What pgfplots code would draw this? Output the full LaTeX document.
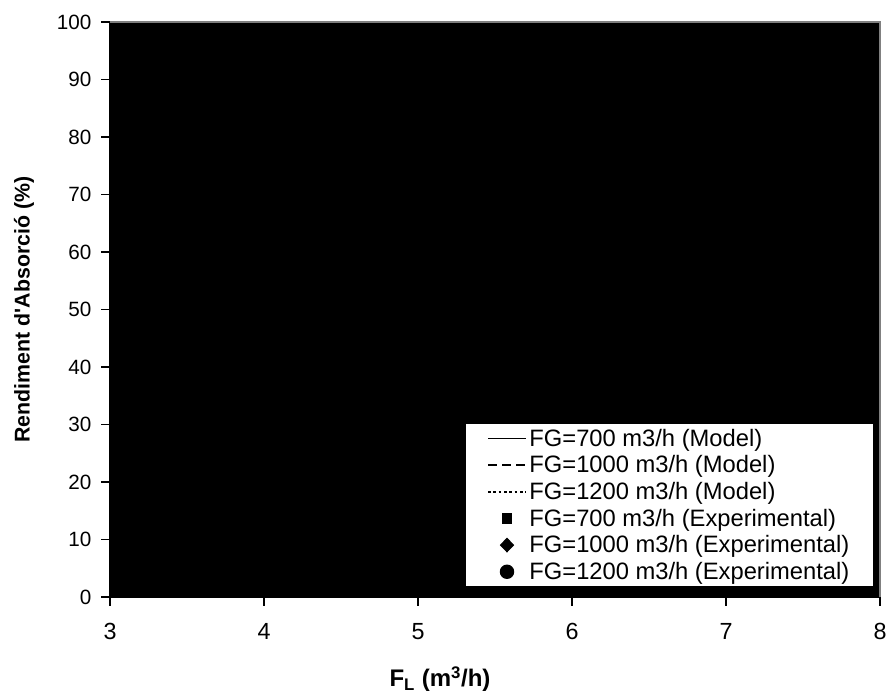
\documentclass[border=0pt]{standalone}
\usepackage{pgfplots}
\pgfplotsset{compat=1.18}
\usepackage{fontspec}
\setmainfont{Liberation Sans}

% Model curves and experimental points (absorption yield vs liquid flow)
\pgfplotstableread{
x    y
3.0  62
4.0  70
5.0  76
6.0  80
7.0  83
8.0  85
}\modelA
\pgfplotstableread{
x    y
3.0  55
4.0  63
5.0  69
6.0  74
7.0  77
8.0  80
}\modelB
\pgfplotstableread{
x    y
3.0  50
4.0  58
5.0  65
6.0  70
7.0  73
8.0  76
}\modelC
\pgfplotstableread{
x    y
3.5  65
5.0  75
6.5  81
}\expA
\pgfplotstableread{
x    y
3.5  58
5.0  68
6.5  75
}\expB
\pgfplotstableread{
x    y
3.5  54
5.0  64
6.5  72
}\expC

\pgfplotsset{
  lineentry/.style={legend image code/.code={%
    \draw[##1, line width=1.2pt] (0cm,0cm) -- (1.0cm,0cm);}},
  markentry/.style={legend image code/.code={%
    \draw[mark repeat=2, mark phase=2, ##1] plot coordinates {(0cm,0cm) (0.5cm,0cm) (1.0cm,0cm)};}},
}

\begin{document}
\begin{tikzpicture}
\begin{axis}[
  scale only axis,
  width=577.5pt, height=431.25pt,
  xmin=3, xmax=8, ymin=0, ymax=100,
  xtick={3,4,5,6,7,8},
  ytick={0,10,...,100},
  axis x line*=bottom,
  axis y line*=left,
  axis line style={black, line width=0.8pt},
  tick align=outside,
  major tick length=6.5pt,
  tick style={black, line width=0.8pt},
  axis background/.style={fill=black},
  /pgf/number format/assume math mode=true,
  yticklabel style={font=\fontsize{15.5}{18}\selectfont, anchor=east},
  yticklabel shift=4pt,
  xticklabel style={font=\fontsize{17.5}{20}\selectfont, anchor=north},
  xticklabel shift=10pt,
  xlabel={\textbf{F\textsubscript{L} (m\textsuperscript{3}/h)}},
  ylabel={\textbf{Rendiment d\textquotesingle Absorció (\%)}},
  xlabel style={font=\fontsize{18}{21}\selectfont,
    at={(axis description cs:0.4286,-0.1426)}, anchor=center},
  ylabel style={font=\fontsize{16}{19}\selectfont,
    at={(axis description cs:-0.1117,0.5)}, anchor=center},
  legend style={
    at={(rel axis cs:0.992,0.017)}, anchor=south east,
    fill=white, draw=black, line width=0.8pt,
    font=\fontsize{17.8}{20}\selectfont,
    row sep=1.6pt, inner xsep=16pt, inner ysep=2pt,
    legend cell align=left,
    /tikz/every even column/.append style={column sep=3pt},
  },
  clip=false,
]
\addplot[black, solid, line width=1.2pt, lineentry] table {\modelA};
\addlegendentry{FG=700 m3/h (Model)}
\addplot[black, dash pattern=on 6.5pt off 4pt, line width=1.2pt, lineentry] table {\modelB};
\addlegendentry{FG=1000 m3/h (Model)}
\addplot[black, dash pattern=on 2pt off 2pt, line width=1.2pt, lineentry] table {\modelC};
\addlegendentry{FG=1200 m3/h (Model)}
\addplot[only marks, black, mark=square*, mark size=3.5pt, markentry] table {\expA};
\addlegendentry{FG=700 m3/h (Experimental)}
\addplot[only marks, black, mark=diamond*, mark size=5pt,
  mark options={xscale=1.3}, markentry] table {\expB};
\addlegendentry{FG=1000 m3/h (Experimental)}
\addplot[only marks, black, mark=*, mark size=5pt, markentry] table {\expC};
\addlegendentry{FG=1200 m3/h (Experimental)}
\draw[gray, line width=1pt] (rel axis cs:0,1) -- (rel axis cs:1,1) -- (rel axis cs:1,0);
\coordinate (ll) at (rel axis cs:0,0);
\coordinate (ur) at (rel axis cs:1,1);
\end{axis}
\pgfresetboundingbox
\path[use as bounding box] ([shift={(-82.5pt,-73.5pt)}]ll) rectangle ([shift={(4.5pt,16.5pt)}]ur);
\end{tikzpicture}
\end{document}
